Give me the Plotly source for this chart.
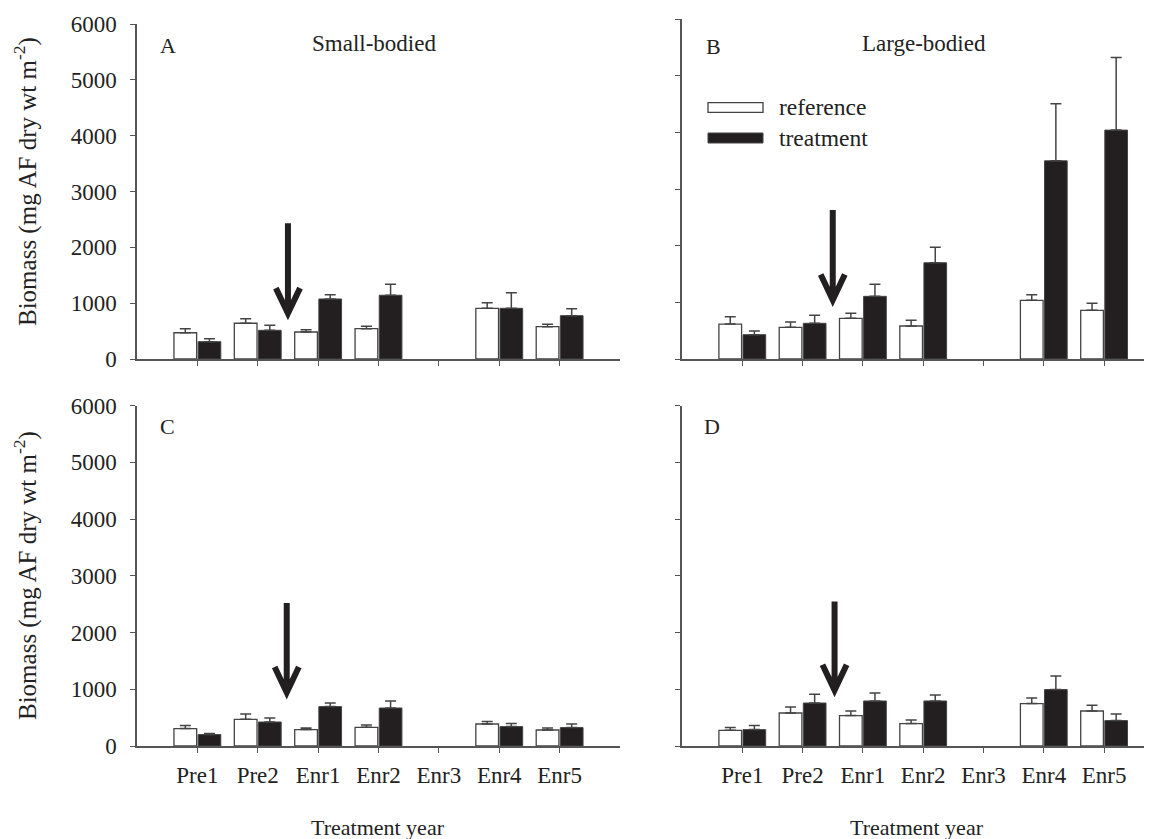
import plotly.graph_objects as go

W, H = 1152, 839
OFF = 8  # page offset of the figure in the browser

years = ["Pre1", "Pre2", "Enr1", "Enr2", "Enr3", "Enr4", "Enr5"]
xpos = [0, 1, 2, 3, 4, 5, 6]

# Panel A: small-bodied (top)
A_ref = [470, 640, 484, 543, None, 908, 579]
A_ref_se = [72, 82, 41, 43, None, 101, 43]
A_trt = [310, 514, 1075, 1142, None, 908, 776]
A_trt_se = [54, 90, 77, 197, None, 280, 125]

# Panel B: large-bodied (top)
B_ref = [617, 559, 718, 582, None, 1035, 859]
B_ref_se = [129, 94, 88, 101, None, 99, 123]
B_trt = [429, 630, 1106, 1698, None, 3497, 4039]
B_trt_se = [65, 141, 211, 272, None, 1006, 1282]

# Panel C: small-bodied (bottom)
C_ref = [307, 471, 289, 330, None, 388, 282]
C_ref_se = [53, 93, 28, 40, None, 42, 35]
C_trt = [201, 423, 695, 670, None, 342, 325]
C_trt_se = [18, 71, 63, 124, None, 53, 63]

# Panel D: large-bodied (bottom)
D_ref = [277, 582, 536, 395, None, 748, 617]
D_ref_se = [48, 106, 81, 64, None, 99, 101]
D_trt = [289, 758, 794, 794, None, 995, 448]
D_trt_se = [71, 154, 141, 106, None, 240, 116]

# Arrow (x, top, tip) for each panel
arrows = {"A": (1.5, 2432, 819), "B": (1.5, 2628, 1040),
          "C": (1.48, 2522, 942), "D": (1.53, 2547, 982)}

FONT = "Liberation Serif, Times New Roman, serif"
DARK = "#231f20"
AX = "#555555"

def px(x):
    return (x - OFF) / W

def py(y):
    return 1 - (y - OFF) / H

panels = [
    ("A", A_ref, A_ref_se, A_trt, A_trt_se, "x", "y"),
    ("B", B_ref, B_ref_se, B_trt, B_trt_se, "x2", "y2"),
    ("C", C_ref, C_ref_se, C_trt, C_trt_se, "x3", "y3"),
    ("D", D_ref, D_ref_se, D_trt, D_trt_se, "x4", "y4"),
]

fig = go.Figure()
for name, r, rse, t, tse, xa, ya in panels:
    fig.add_trace(go.Bar(
        x=xpos, y=r, xaxis=xa, yaxis=ya, name="reference", showlegend=False,
        marker=dict(color="white", line=dict(color="#444444", width=1.3)),
        error_y=dict(type="data", array=rse, arrayminus=[0] * 7, symmetric=False,
                     color="#444444", thickness=1.5, width=5.5)))
    fig.add_trace(go.Bar(
        x=xpos, y=t, xaxis=xa, yaxis=ya, name="treatment", showlegend=False,
        marker=dict(color=DARK, line=dict(color="#444444", width=1.0)),
        error_y=dict(type="data", array=tse, arrayminus=[0] * 7, symmetric=False,
                     color="#444444", thickness=1.5, width=5.5)))

# domains (pixel geometry)
xdomL = [px(137), px(620)]
xdomR = [px(682), 1.0]
rightR = -1 + (W + OFF - 682) / 60.3
ydomT_A = [py(359), py(24)]
ydomT_B = [py(359), py(19)]
ydomB = [py(746), py(405.7)]

tickfont = dict(family=FONT, size=23, color="#222222")

def xaxis(domain, anchor, rng, labels):
    return dict(domain=domain, anchor=anchor, range=rng, automargin=False,
                tickmode="array", tickvals=xpos,
                ticktext=years if labels else [""] * 7,
                showticklabels=labels,
                ticks="outside", ticklen=5, tickwidth=1.3, tickcolor=AX,
                showline=True, linecolor=AX, linewidth=1.5,
                showgrid=False, zeroline=False, tickfont=tickfont,
                ticklabelstandoff=3)

def yaxis(domain, anchor, labels):
    return dict(domain=domain, anchor=anchor, range=[0, 6000], automargin=False,
                tickmode="array", tickvals=[0, 1000, 2000, 3000, 4000, 5000, 6000],
                showticklabels=labels,
                ticks="outside", ticklen=5, tickwidth=1.3, tickcolor=AX,
                showline=True, linecolor=AX, linewidth=1.5,
                showgrid=False, zeroline=False, tickfont=tickfont,
                ticklabelstandoff=9)

fig.update_layout(
    width=W, height=H, margin=dict(l=0, r=0, t=0, b=0, autoexpand=False),
    paper_bgcolor="white", plot_bgcolor="white",
    barmode="group", bargap=0.2, bargroupgap=0.06,
    font=dict(family=FONT, size=22, color="#222222"),
    xaxis=xaxis(xdomL, "y", [-1, 7], False),
    yaxis=yaxis(ydomT_A, "x", True),
    xaxis2=xaxis(xdomR, "y2", [-1, rightR], False),
    yaxis2=yaxis(ydomT_B, "x2", False),
    xaxis3=xaxis(xdomL, "y3", [-1, 7], True),
    yaxis3=yaxis(ydomB, "x3", True),
    xaxis4=xaxis(xdomR, "y4", [-1, rightR], True),
    yaxis4=yaxis(ydomB, "x4", False),
)

# arrows as path shapes in data coordinates
axmap = {"A": ("x", "y"), "B": ("x2", "y2"), "C": ("x3", "y3"), "D": ("x4", "y4")}
for k, (ax_, top, tip) in arrows.items():
    xr, yr = axmap[k]
    dx, dy = 0.2, 450
    path = (f"M {ax_},{top} L {ax_},{tip} "
            f"M {ax_ - dx},{tip + dy} L {ax_},{tip} L {ax_ + dx},{tip + dy}")
    fig.add_shape(type="path", path=path, xref=xr, yref=yr,
                  line=dict(color=DARK, width=6))

ann = []
def text(x, y, s, size=22, xanchor="center", angle=0):
    ann.append(dict(x=px(x), y=py(y), xref="paper", yref="paper", text=s,
                    showarrow=False, xanchor=xanchor, yanchor="middle",
                    textangle=angle, font=dict(family=FONT, size=size, color="#222222")))

text(168, 46, "A", 22)
text(374, 44, "Small-bodied", 23)
text(713, 47, "B", 22)
text(924, 44, "Large-bodied", 23)
text(167, 427, "C", 22)
text(712, 427, "D", 22)
text(378, 827, "Treatment year", 22)
text(917, 827, "Treatment year", 22)
ylab = "Biomass (mg AF dry wt m<sup>-2</sup>)"
text(25, 182, ylab, 25, angle=-90)
text(25, 576, ylab, 25, angle=-90)

# legend
fig.add_shape(type="rect", xref="paper", yref="paper",
              x0=px(708), x1=px(763), y0=py(112.3), y1=py(102.7),
              line=dict(color="#444444", width=1.3), fillcolor="white")
fig.add_shape(type="rect", xref="paper", yref="paper",
              x0=px(708), x1=px(763), y0=py(143), y1=py(133),
              line=dict(color="#444444", width=1.0), fillcolor=DARK)
text(777, 107, "reference", 23.5, xanchor="left")
text(777, 138, "treatment", 23.5, xanchor="left")

fig.update_layout(annotations=ann)
fig.write_html("out.html")
